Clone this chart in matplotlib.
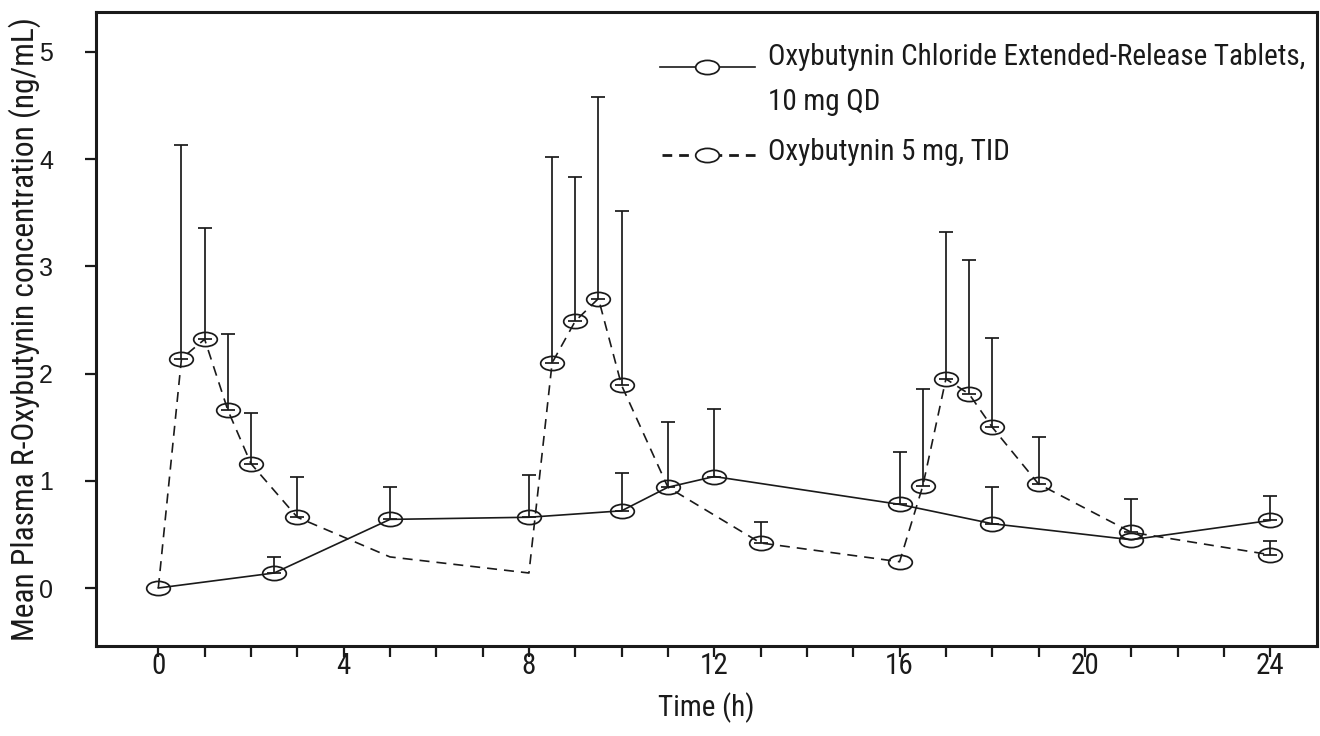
import numpy as np
import matplotlib
matplotlib.use("Agg")
import matplotlib.pyplot as plt
from matplotlib.path import Path
from matplotlib.transforms import Affine2D
from matplotlib.lines import Line2D
from matplotlib import font_manager as fm

# ---------------- data ----------------
# Oxybutynin Chloride ER tablets 10 mg QD
t_er = [0, 2.5, 5, 8, 10, 11, 12, 16, 18, 21, 24]
c_er = [0.00, 0.14, 0.64, 0.66, 0.72, 0.94, 1.04, 0.78, 0.60, 0.45, 0.63]
sd_er = [0.00, 0.15, 0.30, 0.39, 0.35, 0.61, 0.63, 0.49, 0.345, 0.00, 0.23]
mark_er = [True] * len(t_er)

# Oxybutynin 5 mg TID
t_ir = [0, 0.5, 1, 1.5, 2, 3, 5, 8, 8.5, 9, 9.5, 10, 11, 13, 16, 16.5, 17, 17.5, 18, 19, 21, 24]
c_ir = [0.00, 2.14, 2.32, 1.66, 1.16, 0.66, 0.29, 0.14, 2.10, 2.49, 2.70, 1.89, 0.94, 0.42,
        0.245, 0.95, 1.95, 1.81, 1.50, 0.97, 0.52, 0.31]
sd_ir = [0.00, 1.99, 1.04, 0.71, 0.47, 0.38, 0.00, 0.00, 1.92, 1.34, 1.88, 1.63, 0.00, 0.20,
         0.00, 0.91, 1.37, 1.25, 0.83, 0.44, 0.31, 0.13]
mark_ir = [False, True, True, True, True, True, False, False, True, True, True, True, False, True,
           True, True, True, True, True, True, True, True]

legend_er = ["Oxybutynin Chloride Extended-Release Tablets,", "10 mg QD"]
legend_ir = "Oxybutynin 5 mg, TID"
xlabel = "Time (h)"
ylabel = "Mean Plasma R-Oxybutynin concentration (ng/mL)"
xticks_major = [0, 4, 8, 12, 16, 20, 24]
yticks = [0, 1, 2, 3, 4, 5]

# ---------------- fonts ----------------
names = {f.name for f in fm.fontManager.ttflist}
cond = [f for f in fm.fontManager.ttflist
        if ("Narrow" in f.name or "Condensed" in f.name or f.stretch in ("condensed", "semi-condensed", 600, 700) or
            "Condensed" in f.fname or "Narrow" in f.fname)]
narrow_family = None
narrow_stretch = "normal"
for cand in ["Liberation Sans Narrow", "Arial Narrow", "DejaVu Sans Condensed", "Roboto Condensed",
             "Noto Sans Condensed", "Open Sans Condensed"]:
    if cand in names:
        narrow_family = cand
        break
if narrow_family is None:
    for f in cond:
        if "Sans" in f.name or "Roboto" in f.name:
            narrow_family = f.name
            narrow_stretch = f.stretch
            break
if narrow_family is None:
    narrow_family = "Liberation Sans"
is_narrow = narrow_family != "Liberation Sans"

NARROW = [narrow_family, "DejaVu Sans"]
REG = ["Liberation Sans", "DejaVu Sans"]
INK = "#1a1a1a"
plt.rcParams["font.family"] = NARROW
plt.rcParams["font.stretch"] = narrow_stretch

k = 1.0 if is_narrow else 0.84  # shrink when no narrow face is available

ellipse = Path.unit_circle().transformed(Affine2D().scale(1.0, 0.6))

fig = plt.figure(figsize=(13.2, 7.36), dpi=100)
ax = fig.add_axes([96 / 1320, 1 - 646 / 736, (1317 - 96) / 1320, (646 - 12) / 736])

ms = 17
mew = 1.25
lw = 1.2

def draw_series(t, c, sd, marks, ls):
    t = np.asarray(t, float)
    c = np.asarray(c, float)
    sd = np.asarray(sd, float)
    m = np.asarray(marks, bool)
    ax.plot(t, c, color=INK, lw=lw, ls=ls, zorder=2)
    ax.plot(t[m], c[m], ls="none", marker=ellipse, ms=ms, mfc="none", mec=INK, mew=mew, zorder=3)
    e = sd > 0
    ax.errorbar(t[e], c[e], yerr=[np.zeros(e.sum()), sd[e]], fmt="none", ecolor=INK,
                elinewidth=1.25, capsize=5, capthick=1.25, zorder=2)

dash = (0, (6.0, 4.2))
draw_series(t_ir, c_ir, sd_ir, mark_ir, dash)
draw_series(t_er, c_er, sd_er, mark_er, "-")

ax.set_xlim(-1.345, 25.01)
ax.set_ylim(-0.541, 5.373)

ax.set_xticks(xticks_major)
ax.set_xticks(np.arange(0, 25, 1), minor=True)
ax.set_yticks(yticks)
ax.tick_params(axis="x", which="both", direction="out", length=8, width=1.6, colors=INK,
               labelsize=21 * k, pad=-4)
ax.tick_params(axis="y", which="both", direction="out", length=8, width=1.6, colors=INK,
               labelsize=18, pad=23)
for lab in ax.get_yticklabels():
    lab.set_fontfamily(REG)
    lab.set_fontstretch("normal")
for sp in ax.spines.values():
    sp.set_linewidth(2.2)
    sp.set_color(INK)

ax.set_xlabel(xlabel, fontsize=21 * k, color=INK)
ax.set_ylabel(ylabel, fontsize=22.7 * k, color=INK)
ax.xaxis.set_label_coords(0.5, (646 - 692) / 634)
ax.yaxis.set_label_coords((41 - 96) / 1221, 0.5)

# ---------------- legend (manual, axes fraction) ----------------
def fx(px):
    return (px - 96) / 1221

def fy(py):
    return (646 - py) / 634

tr = ax.transAxes
ax.add_line(Line2D([fx(660), fx(755)], [fy(67), fy(67)], transform=tr, color=INK, lw=lw, clip_on=False))
ax.add_line(Line2D([fx(707)], [fy(67)], transform=tr, ls="none", marker=ellipse, ms=ms,
                   mfc="white", mec=INK, mew=mew, clip_on=False))
ax.add_line(Line2D([fx(662), fx(760)], [fy(155), fy(155)], transform=tr, color=INK, lw=2.0,
                   ls=(0, (3.5, 2.5)), clip_on=False))
ax.add_line(Line2D([fx(707)], [fy(155)], transform=tr, ls="none", marker=ellipse, ms=ms,
                   mfc="white", mec=INK, mew=mew, clip_on=False))
fs_leg = 21 * k
ax.text(fx(768), fy(57), legend_er[0], transform=tr,
        fontsize=fs_leg, color=INK, va="center", ha="left")
ax.text(fx(768), fy(102), legend_er[1], transform=tr, fontsize=fs_leg, color=INK, va="center", ha="left")
ax.text(fx(768), fy(152), legend_ir, transform=tr, fontsize=fs_leg, color=INK, va="center", ha="left")

fig.savefig("out.png", dpi=100, facecolor="white")
